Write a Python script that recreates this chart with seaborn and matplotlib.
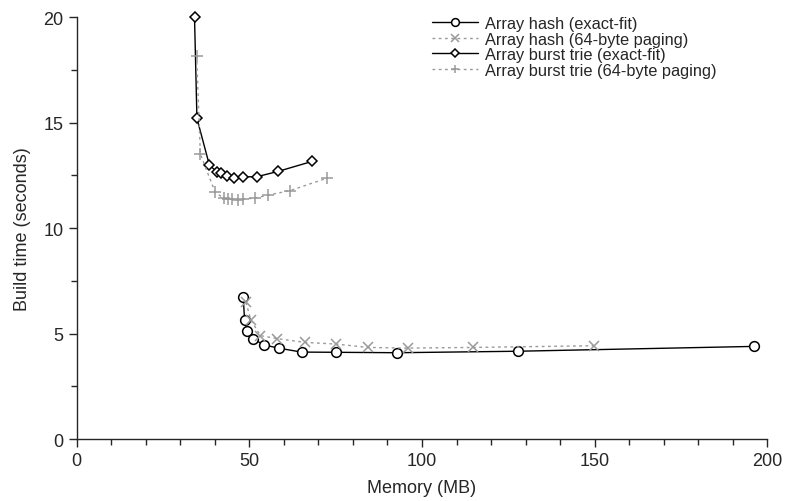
import matplotlib
matplotlib.use("Agg")
import matplotlib.pyplot as plt
import seaborn as sns
import pandas as pd
from matplotlib.ticker import MultipleLocator

# Data
hash_exact_mem = [48.2, 48.6, 49.4, 51.1, 54.2, 58.7, 65.1, 75.0, 92.9, 127.7, 196.3]
hash_exact_time = [6.75, 5.66, 5.11, 4.74, 4.46, 4.30, 4.12, 4.11, 4.09, 4.16, 4.39]

hash_page_mem = [49.0, 50.4, 53.2, 58.0, 66.1, 75.1, 84.4, 95.8, 114.7, 149.7]
hash_page_time = [6.48, 5.65, 4.90, 4.76, 4.58, 4.50, 4.34, 4.31, 4.34, 4.42]

trie_exact_mem = [34.1, 34.8, 38.4, 40.7, 41.9, 43.4, 45.4, 48.1, 52.1, 58.2, 68.2]
trie_exact_time = [20.0, 15.2, 12.99, 12.64, 12.59, 12.48, 12.39, 12.43, 12.43, 12.68, 13.16]

trie_page_mem = [34.7, 35.8, 40.1, 42.6, 43.9, 45.1, 46.6, 48.2, 51.6, 55.4, 61.7, 72.4]
trie_page_time = [18.17, 13.5, 11.69, 11.41, 11.37, 11.36, 11.34, 11.37, 11.42, 11.56, 11.77, 12.36]

labels = ["Array hash (exact-fit)", "Array hash (64-byte paging)",
          "Array burst trie (exact-fit)", "Array burst trie (64-byte paging)"]

sns.set_style("ticks")
plt.rcParams['font.family'] = ['Liberation Sans', 'DejaVu Sans']

fig = plt.figure(figsize=(8.0, 5.02), dpi=100)
ax = fig.add_axes([0.096, 0.1235, 0.863, 0.8405])

gray = "#9a9a9a"
series = [
    (hash_exact_mem, hash_exact_time, labels[0], "black", "-", "o", "white", 7, "black"),
    (hash_page_mem, hash_page_time, labels[1], gray, (0, (2, 2.5)), "x", gray, 7, gray),
    (trie_exact_mem, trie_exact_time, labels[2], "black", "-", "D", "white", 5.5, "black"),
    (trie_page_mem, trie_page_time, labels[3], gray, (0, (2, 2.5)), "+", gray, 8, gray),
]

for mem, t, lab, col, ls, mk, mfc, ms, mec in series:
    df = pd.DataFrame({"Memory": mem, "Time": t})
    sns.lineplot(data=df, x="Memory", y="Time", sort=False, ax=ax, color=col,
                 linestyle=ls, marker=mk, markerfacecolor=mfc, markeredgecolor=mec,
                 markersize=ms, markeredgewidth=1.1, linewidth=1.0, label=lab,
                 clip_on=False, zorder=3)

ax.set_xlim(0, 200)
ax.set_ylim(0, 20)
ax.xaxis.set_major_locator(MultipleLocator(50))
ax.xaxis.set_minor_locator(MultipleLocator(10))
ax.yaxis.set_major_locator(MultipleLocator(5))
ax.yaxis.set_minor_locator(MultipleLocator(2.5))
ax.tick_params(axis="both", which="major", length=6, width=1, labelsize=13, direction="out")
ax.tick_params(axis="both", which="minor", length=4, width=1, direction="out")
for s in ["top", "right"]:
    ax.spines[s].set_visible(False)
for s in ["left", "bottom"]:
    ax.spines[s].set_linewidth(1.0)

ax.set_xlabel("Memory (MB)", fontsize=13, labelpad=7)
ax.set_ylabel("Build time (seconds)", fontsize=13, labelpad=9)

leg = ax.legend(loc="upper left", bbox_to_anchor=(0.505, 1.018), frameon=False,
                fontsize=11.8, handlelength=2.8, labelspacing=0.03, handletextpad=0.45,
                borderaxespad=0.0, markerscale=0.8)

fig.savefig("out.png", dpi=100)
